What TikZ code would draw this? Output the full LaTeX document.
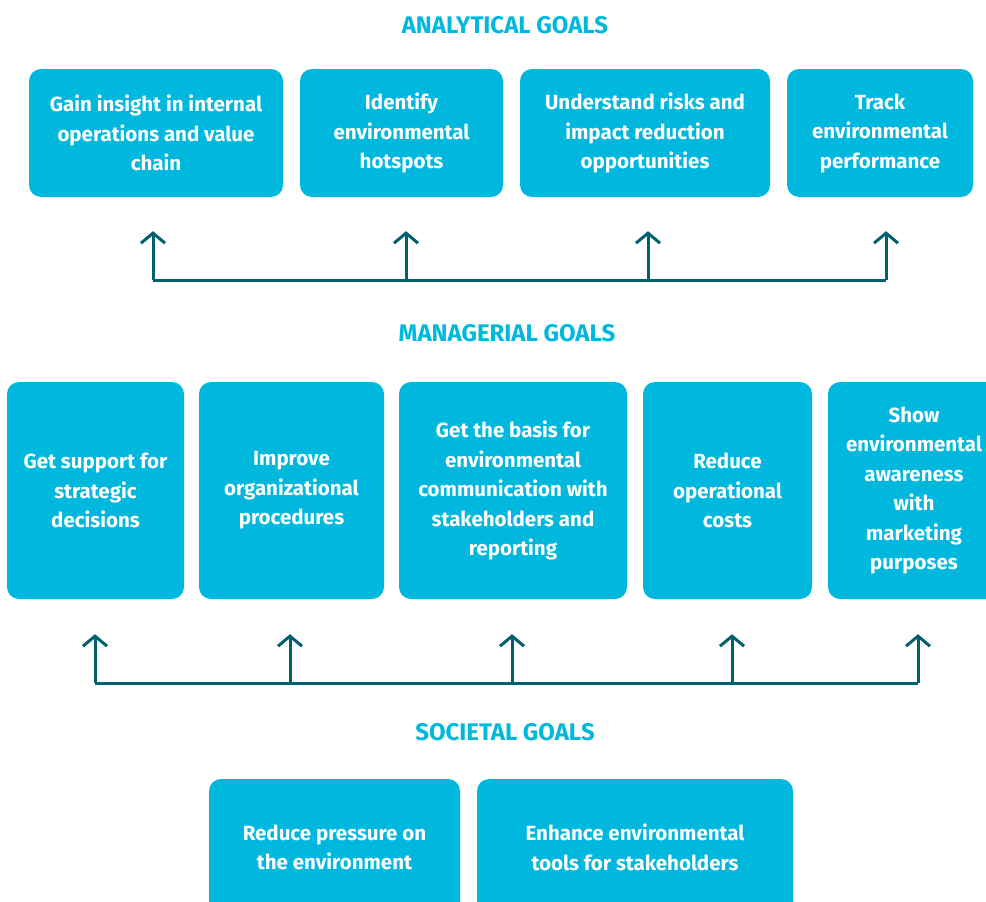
\documentclass[tikz,border=0pt]{standalone}
\usepackage{fontspec}
\setmainfont{Fira Sans}
\usetikzlibrary{arrows.meta}
\definecolor{goalcyan}{HTML}{00B8DE}
\definecolor{goalteal}{HTML}{00606E}
\tikzset{
  goalhead/.style={font=\fontsize{24}{28}\selectfont\bfseries, text=goalcyan},
  goalbox/.style={fill=goalcyan, rounded corners=12pt, text=white, align=center, inner sep=0pt, font=\fontsize{20.5}{29.5}\selectfont\bfseries},
  goalline/.style={draw=goalteal, line width=3pt},
  goalarrow/.style={goalline, -{Straight Barb[length=10pt,width=24pt]}}
}
\begin{document}
\begin{tikzpicture}[x=1pt, y=-1pt]
\useasboundingbox (0,0) rectangle (986,902);
\clip (0,0) rectangle (986,902);
% Analytical goals
\node[goalhead] (ahead) at (505,25) {ANALYTICAL GOALS};
\node[goalbox, minimum width=254pt, minimum height=128pt] (a1) at (156,133) {Gain insight in internal\\operations and value\\chain};
\node[goalbox, minimum width=203pt, minimum height=128pt] (a2) at (401.5,133) {Identify\\environmental\\hotspots};
\node[goalbox, minimum width=250pt, minimum height=128pt] (a3) at (645,133) {Understand risks and\\impact reduction\\opportunities};
\node[goalbox, minimum width=186pt, minimum height=128pt] (a4) at (880,133) {Track\\environmental\\performance};
\coordinate (abar) at (0,280);
\draw[goalline] ([xshift=-3pt]a1.south |- abar) -- ([xshift=6pt]a4.south |- abar);
\foreach \n/\dx in {a1/-3,a2/4.5,a3/3,a4/6}
  \draw[goalarrow, shorten >=34pt] ([xshift=\dx pt]\n.south |- abar) -- ([xshift=\dx pt]\n.south);

% Managerial goals
\node[goalhead] (mhead) at (507,333) {MANAGERIAL GOALS};
\node[goalbox, minimum width=177pt, minimum height=217pt] (m1) at (95.5,490.5) {Get support for\\strategic\\decisions};
\node[goalbox, minimum width=185pt, minimum height=217pt] (m2) at (291.5,490.5) {Improve\\organizational\\procedures};
\node[goalbox, minimum width=228pt, minimum height=217pt] (m3) at (513,490.5) {Get the basis for\\environmental\\communication with\\stakeholders and\\reporting};
\node[goalbox, minimum width=169pt, minimum height=217pt] (m4) at (727.5,490.5) {Reduce\\operational\\costs};
\node[goalbox, minimum width=172pt, minimum height=217pt] (m5) at (914,490.5) {Show\\environmental\\awareness\\with\\marketing\\purposes};
\coordinate (mbar) at (0,683);
\draw[goalline] ([xshift=-0.5pt]m1.south |- mbar) -- ([xshift=4pt]m5.south |- mbar);
\foreach \n/\dx in {m1/-0.5,m2/-1.5,m3/-1,m4/4.5,m5/4}
  \draw[goalarrow, shorten >=35pt] ([xshift=\dx pt]\n.south |- mbar) -- ([xshift=\dx pt]\n.south);

% Societal goals
\node[goalhead] (shead) at (505,732) {SOCIETAL GOALS};
\node[goalbox, minimum width=251pt, minimum height=137pt] (s1) at (334.5,847.5) {Reduce pressure on\\the environment};
\node[goalbox, minimum width=316pt, minimum height=137pt] (s2) at (635,847.5) {Enhance environmental\\tools for stakeholders};
\end{tikzpicture}
\end{document}
